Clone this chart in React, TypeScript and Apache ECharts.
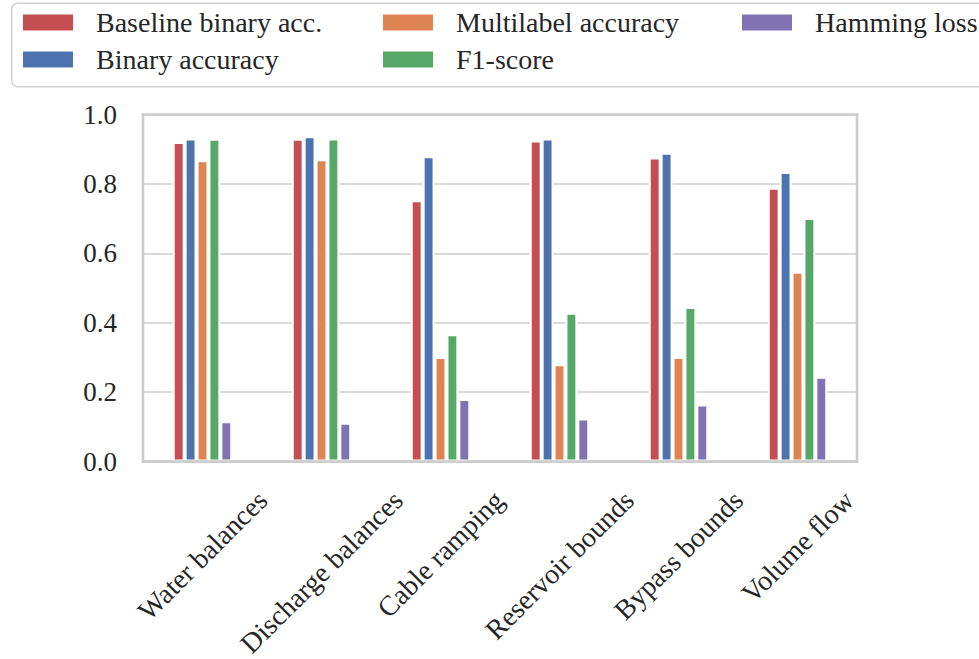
import React, { useEffect, useRef } from 'react';
import * as echarts from 'echarts';

// Constraint categories on the x axis
const categories = [
  'Water balances',
  'Discharge balances',
  'Cable ramping',
  'Reservoir bounds',
  'Bypass bounds',
  'Volume flow',
];

// Metric names, in plotting order
const metricNames = [
  'Baseline binary acc.',
  'Binary accuracy',
  'Multilabel accuracy',
  'F1-score',
  'Hamming loss',
];

// Metric values per category
const baselineBinaryAcc = [0.921, 0.93, 0.753, 0.925, 0.876, 0.789];
const binaryAccuracy = [0.931, 0.937, 0.88, 0.931, 0.89, 0.834];
const multilabelAccuracy = [0.868, 0.871, 0.301, 0.28, 0.301, 0.547];
const f1Score = [0.93, 0.931, 0.367, 0.429, 0.445, 0.702];
const hammingLoss = [0.116, 0.112, 0.18, 0.124, 0.164, 0.244];

const metricValues = [baselineBinaryAcc, binaryAccuracy, multilabelAccuracy, f1Score, hammingLoss];
const metricColors = ['#C44E52', '#4C72B0', '#DD8452', '#55A868', '#8172B3'];

// y axis range
const yMin = 0;
const yMax = 1.0;
const yStep = 0.2;

const FONT = '"Liberation Serif", "Times New Roman", serif';
const TEXT_COLOR = '#262626';
const GRID_COLOR = '#cccccc';
const X_LABEL_SIZE = 28;

export default function App() {
  const ref = useRef<HTMLDivElement>(null);

  useEffect(() => {
    if (!ref.current) return;
    const chart = echarts.init(ref.current, undefined, { renderer: 'svg' });

    const legendCommon = {
      orient: 'vertical' as const,
      icon: 'rect',
      itemWidth: 50,
      itemHeight: 16,
      itemGap: 9,
      padding: 0,
      selectedMode: false,
      itemStyle: { borderWidth: 0 },
      textStyle: {
        fontFamily: FONT,
        fontSize: 28,
        color: TEXT_COLOR,
        padding: [0, 0, 0, 18],
      },
    };

    chart.setOption({
      animation: false,
      backgroundColor: '#ffffff',
      grid: {
        left: 143,
        top: 114.5,
        width: 714,
        height: 347,
        show: true,
        borderColor: GRID_COLOR,
        borderWidth: 2.6,
        containLabel: false,
      },
      legend: [
        { ...legendCommon, data: [metricNames[0], metricNames[1]], left: 23, top: 8.5 },
        { ...legendCommon, data: [metricNames[2], metricNames[3]], left: 383, top: 8.5 },
        { ...legendCommon, data: [metricNames[4]], left: 742, top: 8.5 },
      ],
      xAxis: {
        type: 'category',
        data: categories,
        z: 3,
        axisLine: { show: true, lineStyle: { color: GRID_COLOR, width: 2.6 } },
        axisTick: { show: false },
        axisLabel: { show: false },
        splitLine: { show: false },
      },
      yAxis: {
        type: 'value',
        min: yMin,
        max: yMax,
        interval: yStep,
        axisLine: { show: false },
        axisTick: { show: false },
        axisLabel: {
          margin: 26,
          fontFamily: FONT,
          fontSize: 27,
          color: TEXT_COLOR,
          formatter: (v: number) => v.toFixed(1),
        },
        splitLine: { show: true, lineStyle: { color: GRID_COLOR, width: 1.6 } },
      },
      series: metricNames.map((name, i) => ({
        name,
        type: 'bar',
        data: metricValues[i],
        barWidth: '10%',
        barGap: '0%',
        itemStyle: {
          color: metricColors[i],
          borderColor: '#ffffff',
          borderWidth: 2,
        },
      })),
    });

    // Rotated category labels, centred under each tick
    const ctx = document.createElement('canvas').getContext('2d')!;
    ctx.font = `${X_LABEL_SIZE}px "Liberation Serif"`;
    const axisY = chart.convertToPixel({ yAxisIndex: 0 }, 0) as number;
    const labelElements = categories.map((c, i) => {
      const x = chart.convertToPixel({ xAxisIndex: 0 }, i) as number;
      const w = ctx.measureText(c).width;
      const h = X_LABEL_SIZE * 0.7;
      const cy = axisY + 27 + ((w + h) * Math.SQRT1_2) / 2;
      return {
        type: 'text',
        x,
        y: cy,
        rotation: Math.PI / 4,
        style: {
          text: c,
          fontFamily: FONT,
          fontSize: X_LABEL_SIZE,
          fill: TEXT_COLOR,
          align: 'center',
          verticalAlign: 'middle',
        },
      };
    });

    chart.setOption({
      graphic: [
        {
          type: 'rect',
          shape: { x: 11.7, y: 3.3, width: 1000, height: 83.5, r: 6 },
          style: { fill: 'none', stroke: '#d0d0d0', lineWidth: 1.5 },
          z: 0,
        },
        ...labelElements,
      ],
    });

    return () => chart.dispose();
  }, []);

  return (
    <div
      ref={ref}
      style={{ position: 'fixed', left: 0, top: 0, width: 979, height: 659 }}
    />
  );
}
